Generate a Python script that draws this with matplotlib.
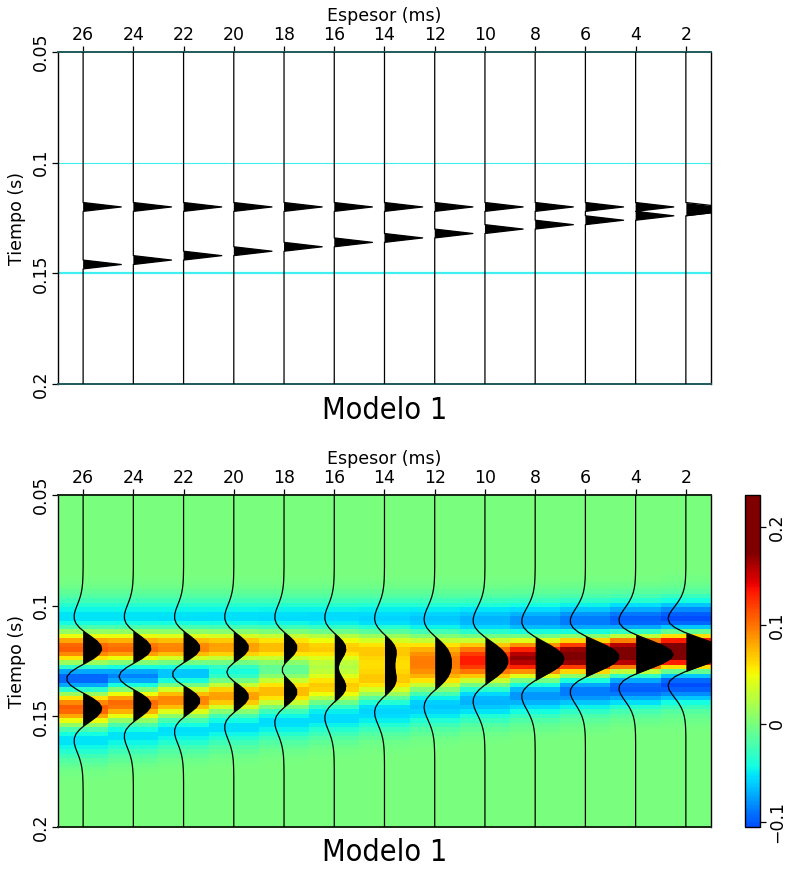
import numpy as np
import matplotlib.pyplot as plt
from matplotlib.colors import ListedColormap

# wedge model: thickness of each trace (ms)
THICK = [26, 24, 22, 20, 18, 16, 14, 12, 10, 8, 6, 4, 2]
T0, T1, DT = 0.05, 0.2, 0.002
TOP_TIME = 0.12
REFL_TOP = 1.0
REFL_BASE = 1.0

# half of a symmetric wavelet, sampled every 2 ms from the centre outward
WAVELET_HALF = [1.0, 0.922, 0.707, 0.409, 0.095, -0.172, -0.353, -0.437,
                -0.438, -0.383, -0.301, -0.216, -0.143, -0.088, -0.051,
                -0.027, -0.014, -0.006, -0.003]
WAVELET_AMP = 0.119

CBAR_MIN, CBAR_MAX = -0.105, 0.2325
CLIP = 0.175
CBAR_TICKS = [-0.1, 0, 0.1, 0.2]
Y_TICKS = [0.05, 0.1, 0.15, 0.2]

FS = 12.5
CYAN = "#3ff0f0"
TEAL = "#1f5a5a"

t = np.round(np.arange(T0, T1 + DT / 2, DT), 4)
nt = len(t)


def idx(time):
    return int(round((time - T0) / DT))


refl = np.zeros((nt, len(THICK)))
for j, th in enumerate(THICK):
    refl[idx(TOP_TIME), j] += REFL_TOP
    refl[idx(TOP_TIME + th / 1000.0), j] += REFL_BASE

half = np.array(WAVELET_HALF)
wavelet = WAVELET_AMP * np.concatenate([half[::-1], half[1:]])
synth = np.column_stack(
    [np.convolve(refl[:, j], wavelet, mode="same") for j in range(len(THICK))]
)

# jet, clipped symmetrically, shown over the data range only
vals = np.linspace(CBAR_MIN, CBAR_MAX, 256)
pos = np.clip((vals / CLIP + 1) / 2, 0, 1)
cmap = ListedColormap(plt.get_cmap("jet")(pos))

fig = plt.figure(figsize=(7.87, 8.71), dpi=100)


def setup(ax, spine_col):
    ax.set_xlim(27, 1)
    ax.set_ylim(T1, T0)
    ax.xaxis.tick_top()
    ax.xaxis.set_label_position("top")
    ax.set_xticks(THICK)
    ax.set_yticks(Y_TICKS)
    ax.set_yticklabels(["0.05", "0.1", "0.15", "0.2"])
    ax.tick_params(direction="out", length=4, width=0.9, labelsize=FS, pad=2)
    plt.setp(ax.get_yticklabels(), rotation=90, va="center")
    ax.set_xlabel("Espesor (ms)", fontsize=FS, labelpad=3)
    ax.set_ylabel("Tiempo (s)", fontsize=FS, labelpad=4)
    for s in ["left", "right"]:
        ax.spines[s].set_color("black")
        ax.spines[s].set_linewidth(1.0)
    for s in ["top", "bottom"]:
        ax.spines[s].set_color(spine_col)
        ax.spines[s].set_linewidth(1.4)


def wiggle(ax, data, scale):
    for j, th in enumerate(THICK):
        x = th - scale * data[:, j]
        ax.fill_betweenx(t, th, x, where=data[:, j] > 0, interpolate=True,
                         color="black", lw=0, zorder=3)
        ax.plot(x, t, color="black", lw=0.9, zorder=4)


def title(y):
    fig.text(0.4886, y, "Modelo 1", ha="center", va="center", fontsize=22,
             fontstretch="condensed", fontweight="light")


# top: reflectivity
ax1 = fig.add_axes([0.0737, 0.5591, 0.8297, 0.3812])
ax1.axhline(0.1, color=CYAN, lw=0.8, zorder=1)
ax1.axhline(0.15, color=CYAN, lw=1.6, zorder=1)
wiggle(ax1, refl, 1.52)
setup(ax1, TEAL)
title(0.529)

# bottom: synthetic
ax2 = fig.add_axes([0.0737, 0.0505, 0.8297, 0.3812])
im = ax2.imshow(synth, cmap=cmap, vmin=CBAR_MIN, vmax=CBAR_MAX, aspect="auto",
                interpolation="nearest",
                extent=(27, 1, T1 + DT / 2, T0 - DT / 2), zorder=0)
wiggle(ax2, synth, 6.8)
setup(ax2, "#142814")
title(0.0218)

cax = fig.add_axes([0.9466, 0.0505, 0.0191, 0.3812])
cb = fig.colorbar(im, cax=cax, ticks=CBAR_TICKS)
cb.ax.set_yticklabels(["\u22120.1", "0", "0.1", "0.2"])
cb.ax.tick_params(direction="out", length=4, width=0.9, labelsize=FS, pad=2)
plt.setp(cb.ax.get_yticklabels(), rotation=90, va="center")
cb.outline.set_linewidth(1.0)

fig.savefig("out.png", dpi=100)
